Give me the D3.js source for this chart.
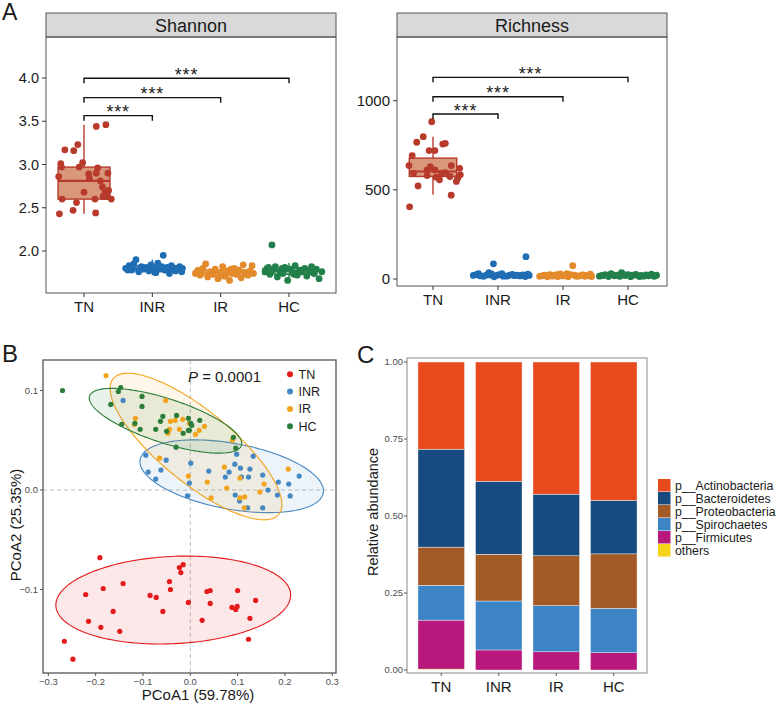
<!DOCTYPE html>
<html><head><meta charset="utf-8">
<script src="https://cdn.jsdelivr.net/npm/d3@7"></script>
<style>body{margin:0;background:#fff} text{font-family:"Liberation Sans",Arial,sans-serif;fill:#1a1a1a}</style>
</head><body><svg id="c" width="776" height="704"></svg>
<script>
// ---------------- DATA ----------------
const groups = ["TN","INR","IR","HC"];
const alphaColors = ["#B73A2B","#1F6DB3","#E38A2B","#22804A"];
const boxFills = ["#D9977B","#8DB3D9","#F0C08F","#8FBF9F"];

// Shannon
const shannonTicks = [2.0,2.5,3.0,3.5,4.0];
const shannonTN = [2.43,2.47,2.44,2.56,2.60,2.60,2.60,2.68,2.63,2.68,2.70,2.63,2.86,2.89,2.81,2.90,2.90,3.01,2.97,3.02,2.97,2.96,3.17,3.16,3.23,3.44,3.46,2.84,2.74];
const shannonTNjit = [-0.36,-0.16,0.17,-0.11,-0.32,0.16,0.40,0,0.28,0.31,0.36,0.34,-0.37,0.07,0.24,0.18,0.35,-0.34,-0.33,-0.02,-0.07,0.20,-0.28,-0.15,-0.09,0.18,0.32,0.08,0.27];
const shannonINR = [1.80,1.83,1.78,1.85,1.90,1.76,1.82,1.79,1.81,1.77,1.84,1.80,1.75,1.86,1.79,1.82,1.78,1.95,1.81,1.74,1.83,1.80,1.77,1.79,1.82,1.76,1.80,1.78,1.81,1.79];
const shannonINRjit = [-0.39,-0.34,-0.30,-0.27,-0.24,-0.20,-0.16,-0.13,-0.09,-0.05,-0.02,0.02,0.05,0.08,0.11,0.14,0.18,0.16,0.22,0.25,0.28,0.31,0.34,0.37,0.40,0.43,0.44,-0.36,0.00,0.20];
const shannonIR = [1.74,1.78,1.72,1.80,1.85,1.70,1.76,1.73,1.79,1.68,1.75,1.82,1.71,1.77,1.66,1.74,1.80,1.73,1.78,1.69,1.84,1.75,1.72,1.77,1.83,1.74,1.76,1.71,1.79,1.73];
const shannonIRjit = [-0.37,-0.33,-0.30,-0.26,-0.22,-0.19,-0.15,-0.11,-0.08,-0.04,0.00,0.03,0.07,0.10,0.13,0.17,0.20,0.23,0.27,0.30,0.33,0.36,0.40,0.43,0.46,0.48,-0.28,0.05,0.15,0.38];
const shannonHC = [1.76,1.80,1.73,1.78,1.82,1.70,1.77,1.74,1.81,1.66,1.79,1.75,1.83,1.72,1.78,2.07,1.76,1.80,1.71,1.77,1.82,1.74,1.79,1.68,1.76,1.81,1.73,1.78,1.75,1.80];
const shannonHCjit = [-0.35,-0.32,-0.28,-0.24,-0.20,-0.17,-0.13,-0.09,-0.06,-0.02,0.02,0.05,0.09,0.12,0.16,-0.25,0.19,0.23,0.26,0.30,0.33,0.37,0.40,0.44,0.48,-0.30,0.07,0.21,0.35,-0.10];
// box stats: [low whisker, Q1, median, Q3, high whisker]
const shannonBox = [[2.43,2.60,2.81,2.97,3.46],[1.72,1.78,1.80,1.83,1.90],[1.66,1.72,1.75,1.78,1.85],[1.66,1.73,1.77,1.80,1.86]];
const shannonSig = [3.565,3.773,3.997];

// Richness
const richTicks = [0,500,1000];
const richTN = [882,798,767,757,761,720,720,692,636,522,405,470,612,612,580,571,593,597,575,636,621,584,547,565,593,556,630];
const richTNjit = [-0.02,-0.15,-0.25,0.15,0.19,-0.06,0.03,-0.32,-0.37,-0.23,-0.36,0.28,-0.09,0.03,-0.09,0.05,0.13,0.19,0.26,0.28,0.41,0.42,0.36,0.38,-0.30,0.10,-0.04];
const richINR = [20,25,30,18,15,22,35,28,12,20,24,30,18,16,22,26,19,85,21,17,23,14,27,20,125,18,22,16,20,19];
const richINRjit = [-0.38,-0.34,-0.30,-0.26,-0.22,-0.18,-0.14,-0.10,-0.06,-0.02,0.02,0.06,0.10,0.14,0.18,0.22,0.26,-0.07,0.30,0.34,0.38,0.42,0.46,0.48,0.43,-0.28,-0.12,0.08,0.24,0.40];
const richIR = [15,18,22,12,25,16,20,14,28,17,19,13,24,21,16,75,18,23,15,20,27,14,19,22,17,30,16,21,18,25];
const richIRjit = [-0.36,-0.32,-0.28,-0.24,-0.20,-0.16,-0.12,-0.08,-0.04,0.00,0.04,0.08,0.12,0.18,0.22,0.15,0.26,0.30,0.34,0.38,0.42,0.44,-0.30,-0.18,-0.06,0.06,0.20,0.32,0.40,-0.10];
const richHC = [16,20,25,14,30,18,22,15,28,19,24,13,21,26,17,35,20,16,23,18,27,15,21,19,24,17,22,14,20,18];
const richHCjit = [-0.44,-0.40,-0.35,-0.30,-0.26,-0.21,-0.17,-0.12,-0.08,-0.04,0.00,0.04,0.08,0.12,0.16,-0.10,0.20,0.24,0.28,0.32,0.36,0.40,0.44,-0.38,-0.24,-0.14,0.02,0.18,0.30,0.42];
const richBox = [[472,575,603,678,798],[8,16,20,26,40],[10,15,18,23,32],[12,16,20,24,33]];
const richSig = [925,1022,1131];

// PCoA
const pcoaColors = ["#E41A1C","#4587C2","#F2A31D","#2B7D3A"];
const pcoaTicksX = [-0.3,-0.2,-0.1,0.0,0.1,0.2,0.3];
const pcoaTicksY = [-0.1,0.0,0.1];
const pcTNx = [-0.191,-0.023,-0.015,-0.020,-0.044,-0.142,-0.221,-0.184,-0.085,-0.072,-0.042,-0.004,0.035,0.042,0.100,0.042,0.138,0.088,0.096,0.099,-0.163,-0.215,-0.058,0.025,0.126,-0.189,-0.149,0.123,-0.266,-0.248];
const pcTNy = [-0.068,-0.078,-0.075,-0.083,-0.092,-0.094,-0.105,-0.099,-0.106,-0.108,-0.100,-0.113,-0.102,-0.101,-0.101,-0.114,-0.111,-0.118,-0.120,-0.117,-0.122,-0.132,-0.122,-0.131,-0.129,-0.138,-0.142,-0.150,-0.152,-0.170];
const pcINRx = [-0.142,-0.094,-0.089,-0.073,-0.062,-0.051,0.001,-0.002,-0.006,0.039,0.074,0.082,0.094,0.098,0.106,0.108,0.123,0.126,0.133,0.095,0.104,0.121,0.153,0.164,0.153,0.184,0.186,0.208,0.211,0.230];
const pcINRy = [0.090,0.035,0.018,0.011,0.020,0.030,0.027,0.007,-0.006,0.019,0.013,0.018,0.026,0.036,0.022,0.013,0.013,0.021,0.034,-0.005,-0.011,-0.018,0.015,0.000,-0.018,-0.005,0.008,0.006,-0.006,0.014];
const pcIRx = [-0.178,-0.052,-0.116,-0.118,-0.042,-0.032,-0.016,-0.044,-0.023,-0.002,0.011,0.019,0.030,-0.047,-0.065,0.089,-0.004,0.036,0.044,0.072,0.077,0.105,0.105,0.115,0.114,0.147,0.156,0.207];
const pcIRy = [0.115,0.090,0.072,0.066,0.069,0.070,0.071,0.061,0.061,0.067,0.056,0.060,0.064,0.057,0.032,0.050,0.014,0.008,-0.008,0.023,0.002,0.012,-0.008,-0.007,-0.018,-0.002,0.006,0.021];
const pcHCx = [-0.270,-0.147,-0.152,-0.168,-0.102,-0.102,-0.145,-0.117,-0.106,-0.073,-0.058,-0.063,-0.050,-0.029,-0.015,-0.004,-0.002,0.003,0.020,0.001,0.091,0.096,-0.030,-0.004];
const pcHCy = [0.100,0.103,0.099,0.086,0.094,0.084,0.066,0.067,0.061,0.061,0.074,0.069,0.059,0.075,0.057,0.072,0.060,0.065,0.070,0.067,0.053,0.042,0.043,0.060];
// 95% ellipses: centre and two conjugate semi-axis vectors (data units)
const ellCx = [-0.036,0.0875,0.012,-0.0524];
const ellCy = [-0.1106,0.0138,0.0437,0.0696];
const ellAx = [0.248,0.1934,0.1749,0.1605];
const ellAy = [0.0058,-0.0168,-0.0682,-0.0248];
const ellBx = [0.0046,-0.0125,-0.0484,-0.0144];
const ellBy = [-0.0438,-0.0325,-0.0279,-0.0211];

// Relative abundance
const phyla = ["p__Actinobacteria","p__Bacteroidetes","p__Proteobacteria","p__Spirochaetes","p__Firmicutes","others"];
const phylaColors = ["#E8491D","#174A7E","#A35A27","#3D84C6","#B8187B","#F6D21B"];
const abActino = [0.283,0.387,0.429,0.449];
const abBactero = [0.318,0.237,0.200,0.174];
const abProteo = [0.124,0.152,0.162,0.177];
const abSpiro = [0.113,0.159,0.150,0.144];
const abFirmi = [0.159,0.065,0.059,0.056];
const abOthers = [0.003,0.000,0.000,0.000];
const abTicks = [0,0.25,0.5,0.75,1.0];

// ---------------- DRAW ----------------
const svg = d3.select("#c");
const FRAME = "#555";

function drawAlpha(o){
  const g = svg.append("g");
  const x = d3.scalePoint().domain(groups).range(o.xr);
  const step = x.step();
  const y = d3.scaleLinear().domain(o.yd).range(o.yr);
  g.append("rect").attr("x",o.left).attr("y",o.stripTop).attr("width",o.right-o.left).attr("height",o.top-o.stripTop)
    .attr("fill","#D9D9D9").attr("stroke",FRAME).attr("stroke-width",1);
  g.append("text").attr("x",(o.left+o.right)/2).attr("y",o.stripTop+18.5).attr("text-anchor","middle").attr("font-size",18).text(o.title);
  g.append("rect").attr("x",o.left).attr("y",o.top).attr("width",o.right-o.left).attr("height",o.bottom-o.top)
    .attr("fill","none").attr("stroke",FRAME).attr("stroke-width",1);
  o.ticks.forEach(t=>{
    g.append("line").attr("x1",o.left-4).attr("x2",o.left).attr("y1",y(t)).attr("y2",y(t)).attr("stroke","#333");
    g.append("text").attr("x",o.left-7).attr("y",y(t)+5).attr("text-anchor","end").attr("font-size",o.tickSize).text(o.fmt(t));
  });
  groups.forEach(k=>{
    g.append("line").attr("x1",x(k)).attr("x2",x(k)).attr("y1",o.bottom).attr("y2",o.bottom+4).attr("stroke","#333");
    g.append("text").attr("x",x(k)).attr("y",o.bottom+19).attr("text-anchor","middle").attr("font-size",15).text(k);
  });
  // boxes
  o.box.forEach((b,i)=>{
    const cx = x(groups[i]), w = step*o.boxW;
    g.append("line").attr("x1",cx).attr("x2",cx).attr("y1",y(b[0])).attr("y2",y(b[4])).attr("stroke",alphaColors[i]).attr("stroke-width",1.4);
    g.append("rect").attr("x",cx-w/2).attr("y",y(b[3])).attr("width",w).attr("height",y(b[1])-y(b[3]))
      .attr("fill",boxFills[i]).attr("stroke",alphaColors[i]).attr("stroke-width",1.4);
    g.append("line").attr("x1",cx-w/2).attr("x2",cx+w/2).attr("y1",y(b[2])).attr("y2",y(b[2])).attr("stroke",alphaColors[i]).attr("stroke-width",2.2);
  });
  // points
  o.vals.forEach((arr,i)=>{
    arr.forEach((v,j)=>{
      g.append("circle").attr("cx",x(groups[i])+o.jit[i][j]*step).attr("cy",y(v)).attr("r",3.4).attr("fill",alphaColors[i]);
    });
  });
  // significance brackets
  o.sig.forEach((v,j)=>{
    const x1 = x(groups[0]), x2 = x(groups[j+1]), yy = y(v);
    g.append("path").attr("d",`M${x1},${yy+5}V${yy}H${x2}V${yy+5}`).attr("fill","none").attr("stroke","#111").attr("stroke-width",1.4);
    g.append("text").attr("x",(x1+x2)/2).attr("y",yy+2.5).attr("text-anchor","middle").attr("font-size",18).attr("letter-spacing",0.8).text("***");
  });
}

drawAlpha({left:46,right:336,stripTop:13,top:37,bottom:293,xr:[84,289],yd:[2,4],yr:[251,78],
  ticks:shannonTicks,fmt:d3.format(".1f"),tickSize:14.5,title:"Shannon",boxW:0.76,
  box:shannonBox,vals:[shannonTN,shannonINR,shannonIR,shannonHC],jit:[shannonTNjit,shannonINRjit,shannonIRjit,shannonHCjit],sig:shannonSig});
drawAlpha({left:397,right:667,stripTop:13,top:37,bottom:286,xr:[433,628],yd:[0,1000],yr:[279,100.7],
  ticks:richTicks,fmt:d3.format("d"),tickSize:15,title:"Richness",boxW:0.73,
  box:richBox,vals:[richTN,richINR,richIR,richHC],jit:[richTNjit,richINRjit,richIRjit,richHCjit],sig:richSig});

// panel letters
svg.append("text").attr("x",2).attr("y",20).attr("font-size",23).text("A");
svg.append("text").attr("x",2).attr("y",362).attr("font-size",24).text("B");
svg.append("text").attr("x",357).attr("y",363).attr("font-size",24).text("C");

// ---------- Panel B: PCoA ----------
(function(){
  const g = svg.append("g");
  const L=43,R=336,T=360,B=673;
  const x = d3.scaleLinear().domain([-0.3,0.3]).range([48.3,332.3]);
  const y = d3.scaleLinear().domain([-0.1,0.1]).range([589.5,390.5]);
  g.append("line").attr("x1",x(0)).attr("x2",x(0)).attr("y1",T).attr("y2",B).attr("stroke","#BDBDBD").attr("stroke-dasharray","4,3");
  g.append("line").attr("x1",L).attr("x2",R).attr("y1",y(0)).attr("y2",y(0)).attr("stroke","#BDBDBD").attr("stroke-dasharray","4,3");
  const xs=[pcTNx,pcINRx,pcIRx,pcHCx], ys=[pcTNy,pcINRy,pcIRy,pcHCy];
  const t = d3.range(0,2*Math.PI+0.01,Math.PI/90);
  groups.forEach((k,i)=>{
    const pts = t.map(a=>[x(ellCx[i]+Math.cos(a)*ellAx[i]+Math.sin(a)*ellBx[i]), y(ellCy[i]+Math.cos(a)*ellAy[i]+Math.sin(a)*ellBy[i])]);
    g.append("path").attr("d",d3.line()(pts)+"Z").attr("fill",pcoaColors[i]).attr("fill-opacity",0.1)
      .attr("stroke",pcoaColors[i]).attr("stroke-width",1.1);
  });
  groups.forEach((k,i)=>{
    xs[i].forEach((v,j)=>{
      g.append("circle").attr("cx",x(v)).attr("cy",y(ys[i][j])).attr("r",2.6).attr("fill",pcoaColors[i]);
    });
  });
  g.append("rect").attr("x",L).attr("y",T).attr("width",R-L).attr("height",B-T).attr("fill","none").attr("stroke",FRAME).attr("stroke-width",1.3);
  pcoaTicksX.forEach(v=>{
    g.append("line").attr("x1",x(v)).attr("x2",x(v)).attr("y1",B).attr("y2",B+3).attr("stroke","#555");
    g.append("text").attr("x",x(v)).attr("y",B+12).attr("text-anchor","middle").attr("font-size",9.5).style("fill","#4D4D4D").text(d3.format(".1f")(v).replace("-","-"));
  });
  pcoaTicksY.forEach(v=>{
    g.append("line").attr("x1",L-3).attr("x2",L).attr("y1",y(v)).attr("y2",y(v)).attr("stroke","#555");
    g.append("text").attr("x",L-5).attr("y",y(v)+3.3).attr("text-anchor","end").attr("font-size",9.5).style("fill","#4D4D4D").text(d3.format(".1f")(v));
  });
  g.append("text").attr("x",198).attr("y",700).attr("text-anchor","middle").attr("font-size",15).text("PCoA1 (59.78%)");
  g.append("text").attr("transform","translate(21,525) rotate(-90)").attr("text-anchor","middle").attr("font-size",15).text("PCoA2 (25.35%)");
  const p = g.append("text").attr("x",188).attr("y",382).attr("font-size",15);
  p.append("tspan").attr("font-style","italic").text("P");
  p.append("tspan").text(" = 0.0001");
  groups.forEach((k,i)=>{
    g.append("circle").attr("cx",290).attr("cy",374.3+17.3*i).attr("r",3).attr("fill",pcoaColors[i]);
    g.append("text").attr("x",298.5).attr("y",374.3+17.3*i+4.5).attr("font-size",12.5).text(k);
  });
})();

// ---------- Panel C: stacked bars ----------
(function(){
  const g = svg.append("g");
  const L=407,R=647,T=358,B=673;
  const x = d3.scaleBand().domain(groups).range([412.5,642.5]).paddingInner(0.19).paddingOuter(0.095);
  const y = d3.scaleLinear().domain([0,1]).range([670,362]);
  const series = [abActino,abBactero,abProteo,abSpiro,abFirmi,abOthers];
  const rows = groups.map((k,i)=>{ const r={group:k}; phyla.forEach((p,j)=>r[p]=series[j][i]); return r; });
  const stack = d3.stack().keys(phyla.slice().reverse())(rows);
  stack.forEach(s=>{
    const ci = phyla.indexOf(s.key);
    s.forEach(d=>{
      const h = y(d[0])-y(d[1]);
      if(h<=0) return;
      g.append("rect").attr("x",x(d.data.group)).attr("width",x.bandwidth()).attr("y",y(d[1])).attr("height",h)
        .attr("fill",phylaColors[ci]).attr("stroke","#fff").attr("stroke-width",0.4);
    });
  });
  g.append("rect").attr("x",L).attr("y",T).attr("width",R-L).attr("height",B-T).attr("fill","none").attr("stroke","#8a8a8a").attr("stroke-width",1);
  abTicks.forEach(v=>{
    g.append("line").attr("x1",L-3).attr("x2",L).attr("y1",y(v)).attr("y2",y(v)).attr("stroke","#555");
    g.append("text").attr("x",L-4).attr("y",y(v)+3.3).attr("text-anchor","end").attr("font-size",9.5).style("fill","#4D4D4D").text(d3.format(".2f")(v));
  });
  groups.forEach(k=>{
    const cx = x(k)+x.bandwidth()/2;
    g.append("line").attr("x1",cx).attr("x2",cx).attr("y1",B).attr("y2",B+3).attr("stroke","#555");
    g.append("text").attr("x",cx).attr("y",692).attr("text-anchor","middle").attr("font-size",15).text(k);
  });
  g.append("text").attr("transform","translate(378,512) rotate(-90)").attr("text-anchor","middle").attr("font-size",14.5).text("Relative abundance");
  phyla.forEach((p,i)=>{
    g.append("rect").attr("x",658).attr("y",479+13*i).attr("width",12.5).attr("height",12.5).attr("fill",phylaColors[i]);
    g.append("text").attr("x",675).attr("y",479+13*i+10.5).attr("font-size",12.3).text(p);
  });
})();
</script>
</body></html>
